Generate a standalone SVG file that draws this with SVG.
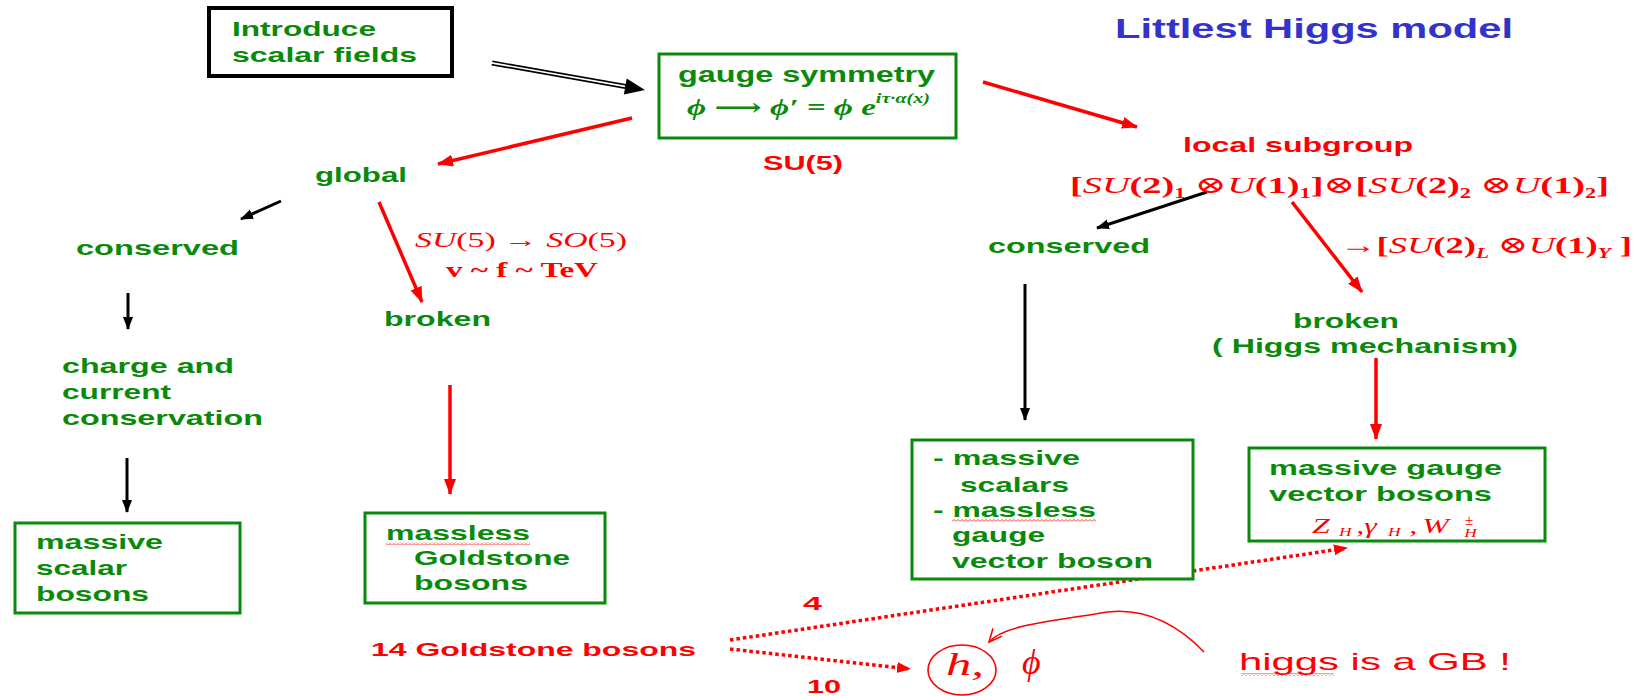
<svg xmlns="http://www.w3.org/2000/svg" width="1642" height="696" viewBox="0 0 1642 696">
<style>
.g{font-family:"Liberation Sans",Arial,sans-serif;font-weight:bold;font-size:21px;fill:#0a8a0a}
.r{font-family:"Liberation Sans",Arial,sans-serif;font-weight:bold;font-size:21px;fill:#ff0000}
.rr{font-family:"Liberation Sans",Arial,sans-serif;font-size:24px;fill:#ff0000}
.t{font-family:"Liberation Sans",Arial,sans-serif;font-weight:bold;font-size:28px;fill:#3333cc}
.m{font-family:"Liberation Serif","Times New Roman","DejaVu Serif",serif;font-size:22px;fill:#ff0000}
.gm{font-family:"Liberation Serif","Times New Roman","DejaVu Serif",serif;font-size:23px;fill:#0a8a0a;font-weight:bold;font-style:italic}
.box{fill:#fff;stroke:#0a8a0a;stroke-width:3}
.ar{fill:none;stroke:#ff0000;stroke-width:3.5;marker-end:url(#mr)}
.ab{fill:none;stroke:#000;stroke-width:3;marker-end:url(#mb)}
.dot{fill:none;stroke:#ff0000;stroke-width:3.5;stroke-dasharray:3.5 3;marker-end:url(#md)}
.wav{fill:url(#wavy)}
</style>
<defs>
<marker id="mr" markerUnits="userSpaceOnUse" markerWidth="18" markerHeight="14" refX="15" refY="6" orient="auto"><path d="M0,0 L16,6 L0,12 z" fill="#ff0000"/></marker>
<marker id="md" markerUnits="userSpaceOnUse" markerWidth="16" markerHeight="14" refX="13" refY="5.5" orient="auto"><path d="M0,0 L14,5.5 L0,11 z" fill="#ff0000"/></marker>
<marker id="mb" markerUnits="userSpaceOnUse" markerWidth="16" markerHeight="12" refX="12" refY="5" orient="auto"><path d="M0,0 L13,5 L0,10 z" fill="#000"/></marker>
<marker id="mo" markerUnits="userSpaceOnUse" markerWidth="16" markerHeight="14" refX="13" refY="6" orient="auto"><path d="M0,0 L13,6 L0,12" fill="none" stroke="#ff0000" stroke-width="1.6"/></marker>
<pattern id="wavy" patternUnits="userSpaceOnUse" width="4" height="3"><path d="M0,2.5 L2,0.5 L4,2.5" fill="none" stroke="#ff0000" stroke-width="0.8"/></pattern>
</defs>
<rect width="1642" height="696" fill="#fff"/>

<g id="title"><text class="t" x="1115" y="38" textLength="398" lengthAdjust="spacingAndGlyphs">Littlest Higgs model</text></g>

<g id="connectors">
  <line x1="492" y1="63" x2="627" y2="86.8" stroke="#000" stroke-width="5"/>
  <line x1="490" y1="62.6" x2="625" y2="86.4" stroke="#fff" stroke-width="1.6"/>
  <polygon points="645,90 626.7,78.6 623.9,94.4" fill="#000"/>
  <line class="ar" x1="632" y1="118" x2="438" y2="164"/>
  <line class="ar" x1="983" y1="82" x2="1137" y2="127"/>
  <line class="ab" x1="281" y1="201" x2="241" y2="219"/>
  <line class="ar" x1="379" y1="202" x2="422" y2="302"/>
  <line class="ab" x1="128" y1="293" x2="128" y2="329"/>
  <line class="ar" x1="450" y1="385" x2="450" y2="494"/>
  <line class="ab" x1="127" y1="458" x2="127" y2="512"/>
  <line class="ab" x1="1207" y1="192" x2="1097" y2="228"/>
  <line class="ar" x1="1292" y1="202" x2="1362" y2="292"/>
  <line class="ab" x1="1025" y1="284" x2="1025" y2="420"/>
  <line class="ar" x1="1376" y1="358" x2="1376" y2="439"/>
  <line class="dot" x1="730" y1="640" x2="1347" y2="548"/>
  <line class="dot" x1="730" y1="649" x2="910" y2="669"/>
  <path d="M1204,652 C1175,622 1140,604 1095,614 C1045,622 1003,626 989,642" fill="none" stroke="#ff0000" stroke-width="1.6" marker-end="url(#mo)"/>
</g>

<g id="introduce">
  <rect x="209" y="8" width="243" height="68" fill="#fff" stroke="#000" stroke-width="4"/>
  <text class="g" x="232" y="36" textLength="144" lengthAdjust="spacingAndGlyphs">Introduce</text>
  <text class="g" x="232" y="62" textLength="185" lengthAdjust="spacingAndGlyphs">scalar fields</text>
</g>

<g id="gauge">
  <rect class="box" x="659" y="54" width="297" height="84"/>
  <text class="g" x="678" y="82" style="font-size:22px" textLength="257" lengthAdjust="spacingAndGlyphs">gauge symmetry</text>
  <text class="gm" x="687" y="115" textLength="243" lengthAdjust="spacingAndGlyphs">ϕ ⟶ ϕ′ = ϕ e<tspan font-size="14" dy="-12">iτ·α(x)</tspan></text>
</g>

<g id="su5"><text class="r" x="763" y="170" textLength="80" lengthAdjust="spacingAndGlyphs">SU(5)</text></g>

<g id="global"><text class="g" x="315" y="182" textLength="92" lengthAdjust="spacingAndGlyphs">global</text></g>

<g id="conserved-left"><text class="g" x="76" y="255" textLength="163" lengthAdjust="spacingAndGlyphs">conserved</text></g>

<g id="breaking-label">
  <text class="m" x="415" y="247" style="font-size:21px" textLength="212" lengthAdjust="spacingAndGlyphs"><tspan font-style="italic">SU</tspan>(5) → <tspan font-style="italic">SO</tspan>(5)</text>
  <text class="m" x="446" y="277" style="font-size:21px" font-weight="bold" textLength="152" lengthAdjust="spacingAndGlyphs">v ~ f ~ TeV</text>
</g>

<g id="broken-left"><text class="g" x="384" y="326" textLength="107" lengthAdjust="spacingAndGlyphs">broken</text></g>

<g id="charge">
  <text class="g" x="62" y="373" textLength="172" lengthAdjust="spacingAndGlyphs">charge and</text>
  <text class="g" x="62" y="399" textLength="109" lengthAdjust="spacingAndGlyphs">current</text>
  <text class="g" x="62" y="425" textLength="201" lengthAdjust="spacingAndGlyphs">conservation</text>
</g>

<g id="massive-scalar">
  <rect class="box" x="15" y="523" width="225" height="90"/>
  <text class="g" x="36" y="549" textLength="127" lengthAdjust="spacingAndGlyphs">massive</text>
  <text class="g" x="36" y="575" textLength="91" lengthAdjust="spacingAndGlyphs">scalar</text>
  <text class="g" x="36" y="601" textLength="113" lengthAdjust="spacingAndGlyphs">bosons</text>
</g>

<g id="massless-goldstone">
  <rect class="box" x="365" y="513" width="240" height="90"/>
  <text class="g" x="386" y="540" textLength="144" lengthAdjust="spacingAndGlyphs">massless</text>
  <rect class="wav" x="386" y="542" width="144" height="3"/>
  <text class="g" x="414" y="565" textLength="156" lengthAdjust="spacingAndGlyphs">Goldstone</text>
  <text class="g" x="414" y="590" textLength="114" lengthAdjust="spacingAndGlyphs">bosons</text>
</g>

<g id="local">
  <text class="r" x="1183" y="152" textLength="230" lengthAdjust="spacingAndGlyphs">local subgroup</text>
  <text class="m" x="1070" y="193" style="font-size:24px" font-weight="bold" textLength="539" lengthAdjust="spacingAndGlyphs">[<tspan font-style="italic" font-weight="normal">SU</tspan>(2)<tspan font-size="14" dy="5">1</tspan><tspan dy="-5" font-weight="normal"> ⊗</tspan><tspan font-style="italic" font-weight="normal">U</tspan>(1)<tspan font-size="14" dy="5">1</tspan><tspan dy="-5">]</tspan><tspan font-weight="normal">⊗</tspan>[<tspan font-style="italic" font-weight="normal">SU</tspan>(2)<tspan font-size="14" dy="5">2</tspan><tspan dy="-5" font-weight="normal"> ⊗</tspan><tspan font-style="italic" font-weight="normal">U</tspan>(1)<tspan font-size="14" dy="5">2</tspan><tspan dy="-5">]</tspan></text>
</g>

<g id="conserved-right"><text class="g" x="988" y="253" textLength="162" lengthAdjust="spacingAndGlyphs">conserved</text></g>

<g id="ew-label">
  <text class="m" x="1340" y="253" style="font-size:24px" font-weight="bold" textLength="292" lengthAdjust="spacingAndGlyphs"><tspan font-weight="normal">→</tspan>[<tspan font-style="italic" font-weight="normal">SU</tspan>(2)<tspan font-size="14" font-style="italic" dy="5">L</tspan><tspan dy="-5" font-weight="normal"> ⊗</tspan><tspan font-style="italic" font-weight="normal">U</tspan>(1)<tspan font-size="14" font-style="italic" dy="5">Y</tspan><tspan dy="-5"> ]</tspan></text>
</g>

<g id="broken-right">
  <text class="g" x="1293" y="328" textLength="106" lengthAdjust="spacingAndGlyphs">broken</text>
  <text class="g" x="1212" y="353" textLength="306" lengthAdjust="spacingAndGlyphs">( Higgs mechanism)</text>
</g>

<g id="massive-massless">
  <rect class="box" x="912" y="440" width="281" height="139"/>
  <text class="g" x="933" y="465" textLength="147" lengthAdjust="spacingAndGlyphs">- massive</text>
  <text class="g" x="960" y="492" textLength="109" lengthAdjust="spacingAndGlyphs">scalars</text>
  <text class="g" x="933" y="517" textLength="163" lengthAdjust="spacingAndGlyphs">- massless</text>
  <rect class="wav" x="952" y="519" width="144" height="3"/>
  <text class="g" x="952" y="542" textLength="93" lengthAdjust="spacingAndGlyphs">gauge</text>
  <text class="g" x="952" y="568" textLength="201" lengthAdjust="spacingAndGlyphs">vector boson</text>
</g>

<g id="massive-gauge">
  <rect class="box" x="1249" y="448" width="296" height="93"/>
  <text class="g" x="1269" y="475" textLength="233" lengthAdjust="spacingAndGlyphs">massive gauge</text>
  <text class="g" x="1269" y="501" textLength="223" lengthAdjust="spacingAndGlyphs">vector bosons</text>
  <text class="m" transform="translate(1312,533) scale(1.45,1)" style="font-size:22px" font-style="italic"><tspan x="0">Z</tspan><tspan x="18.6" font-size="12" dy="3">H</tspan><tspan x="30.5" dy="-3">,</tspan><tspan x="36">γ</tspan><tspan x="52.4" font-size="12" dy="3">H</tspan><tspan x="67" dy="-3">,</tspan><tspan x="76">W</tspan><tspan x="105" font-size="12" dy="4">H</tspan></text>
  <text class="m" x="1465" y="525" style="font-size:15px">±</text>
</g>

<g id="goldstone14">
  <text class="r" x="803" y="610" style="font-size:19px" textLength="19" lengthAdjust="spacingAndGlyphs">4</text>
  <text class="r" x="371" y="656" style="font-size:19px" textLength="325" lengthAdjust="spacingAndGlyphs">14 Goldstone bosons</text>
  <text class="r" x="807" y="693" style="font-size:19px" textLength="34" lengthAdjust="spacingAndGlyphs">10</text>
</g>

<g id="h-phi">
  <ellipse cx="962" cy="670" rx="34" ry="25" fill="none" stroke="#ff0000" stroke-width="1.6"/>
  <text class="m" x="946" y="675" style="font-size:32px" font-style="italic" textLength="38" lengthAdjust="spacingAndGlyphs">h,</text>
  <text class="m" x="1022" y="674" style="font-size:36px" font-style="italic">ϕ</text>
</g>

<g id="higgs-note">
  <text class="rr" x="1239" y="670" textLength="272" lengthAdjust="spacingAndGlyphs">higgs is a GB !</text>
  <rect class="wav" x="1241" y="673" width="93" height="3"/>
</g>
</svg>
